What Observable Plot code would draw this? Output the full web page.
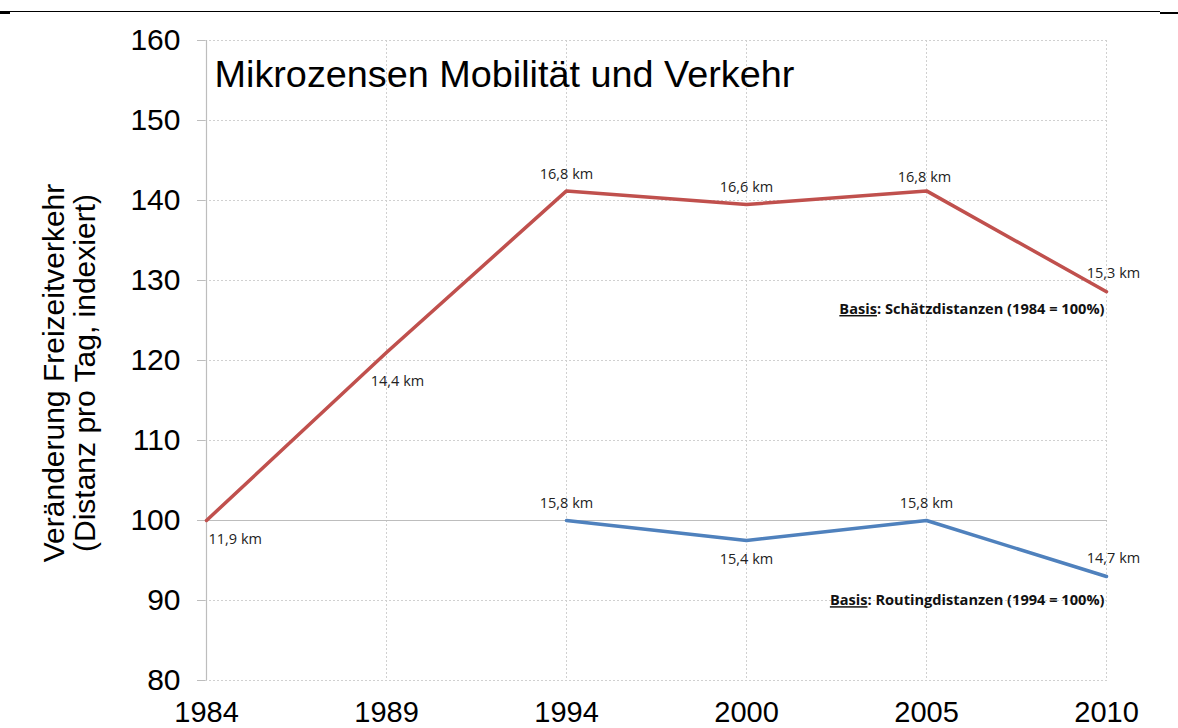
<!DOCTYPE html>
<html>
<head>
<meta charset="utf-8">
<script src="https://cdn.jsdelivr.net/npm/d3@7"></script>
<script src="https://cdn.jsdelivr.net/npm/@observablehq/plot@0.6"></script>
<style>
  html, body { margin: 0; padding: 0; background: #fff; }
  #wrap { position: relative; width: 1178px; height: 728px; overflow: hidden; }
  .rule { position: absolute; background: #000; }
  svg { display: block; }
</style>
</head>
<body>
<div id="wrap">
  <div class="rule" style="left:0;top:11px;width:1160px;height:1.3px"></div>
  <div class="rule" style="left:0;top:12px;width:10px;height:2px"></div>
  <div class="rule" style="left:1160px;top:12px;width:18px;height:2px"></div>
  <div id="chart"></div>
</div>
<script>
// ---- data ----
const years = ["1984", "1989", "1994", "2000", "2005", "2010"];
const yTicks = [80, 90, 100, 110, 120, 130, 140, 150, 160];

const schaetzYears = ["1984", "1989", "1994", "2000", "2005", "2010"];
const schaetzIndex = [100, 121.0, 141.2, 139.5, 141.2, 128.6];
const schaetzKm = ["11,9 km", "14,4 km", "16,8 km", "16,6 km", "16,8 km", "15,3 km"];
const schaetzPlace = ["se", "s2", "n", "n", "n2", "ne"];

const routingYears = ["1994", "2000", "2005", "2010"];
const routingIndex = [100, 97.5, 100, 93.0];
const routingKm = ["15,8 km", "15,4 km", "15,8 km", "14,7 km"];
const routingPlace = ["n", "s", "n", "ne"];

const title = "Mikrozensen Mobilität und Verkehr";
const yLabel1 = "Veränderung Freizeitverkehr";
const yLabel2 = "(Distanz pro Tag, indexiert)";
const basisSchaetz = "Basis: Schätzdistanzen (1984 = 100%)";
const basisRouting = "Basis: Routingdistanzen (1994 = 100%)";

// ---- build tables ----
const red = schaetzYears.map((y, i) => ({year: y, v: schaetzIndex[i], km: schaetzKm[i], p: schaetzPlace[i]}));
const blue = routingYears.map((y, i) => ({year: y, v: routingIndex[i], km: routingKm[i], p: routingPlace[i]}));
const allLabels = red.concat(blue);

const RED = "#c0504d", BLUE = "#4f81bd";
const placements = {
  n:  {dx: 0,  dy: -17, textAnchor: "middle"},
  n2: {dx: -2, dy: -14, textAnchor: "middle"},
  s:  {dx: 0,  dy: 19,  textAnchor: "middle"},
  s2: {dx: 11, dy: 29,  textAnchor: "middle"},
  se: {dx: 2,  dy: 19,  textAnchor: "start"},
  ne: {dx: 7,  dy: -18, textAnchor: "middle"}
};
const labelFont = {fontFamily: "Open Sans", fontSize: 14.5, fill: "#222"};

const labelMarks = Object.entries(placements).map(([k, o]) =>
  Plot.text(allLabels.filter(d => d.p === k), {
    x: "year", y: "v", text: "km", lineAnchor: "middle", ...o, ...labelFont
  })
);

const basisFont = {textAnchor: "end", fontFamily: "Open Sans", fontSize: 14.6, fontWeight: "bold", fill: "#111", lineAnchor: "middle"};

const plot = Plot.plot({
  width: 1178,
  height: 728,
  marginLeft: 205,
  marginRight: 71,
  marginTop: 40,
  marginBottom: 48,
  style: {fontFamily: "Liberation Sans, Arial, sans-serif", background: "#fff"},
  x: {type: "point", domain: years, padding: 0, label: null},
  y: {domain: [80, 160], label: null},
  marks: [
    Plot.gridY(yTicks, {stroke: "#d0d0d0", strokeOpacity: 1, strokeDasharray: "2,2"}),
    Plot.gridX(years.slice(1), {stroke: "#d0d0d0", strokeOpacity: 1, strokeDasharray: "2,2"}),
    Plot.ruleY([100], {stroke: "#bdbdbd", strokeWidth: 1.2}),
    Plot.ruleX([years[0]], {stroke: "#bdbdbd", strokeWidth: 1.2}),
    Plot.axisY(yTicks, {tickSize: 8, tickPadding: 17, stroke: "#bdbdbd", fill: "#000", fontSize: 30, label: null}),
    Plot.axisX(years, {tickSize: 0, tickPadding: 21, fill: "#000", fontSize: 29, label: null}),
    Plot.lineY(red, {x: "year", y: "v", stroke: RED, strokeWidth: 3.5}),
    Plot.lineY(blue, {x: "year", y: "v", stroke: BLUE, strokeWidth: 3.5}),
    ...labelMarks,
    Plot.text([title], {frameAnchor: "top-left", dx: 9, dy: 20, fontSize: 37.8, fill: "#000", lineAnchor: "top", textAnchor: "start"}),
    Plot.text([basisSchaetz], {x: () => "2010", y: () => 126.4, dx: -2, ...basisFont}),
    Plot.text([basisRouting], {x: () => "2010", y: () => 90, dx: -2, ...basisFont})
  ]
});

// y-axis title (two lines, rotated)
const svg = d3.select(plot);
const g = svg.append("g").attr("transform", "translate(53,373) rotate(-90)")
  .attr("font-family", "Liberation Sans, Arial, sans-serif").attr("font-size", 30).attr("text-anchor", "middle").attr("fill", "#000");
g.append("text").attr("dy", "0.35em").text(yLabel1);
g.append("text").attr("y", 31).attr("dy", "0.35em").text(yLabel2);

// underline "Basis"
svg.selectAll("text").each(function() {
  const t = this.textContent;
  if (this.childNodes.length === 1 && this.firstChild.nodeType === 3 && t.startsWith("Basis:")) {
    const rest = t.slice(5);
    this.textContent = "";
    d3.select(this).append("tspan").attr("text-decoration", "underline").text("Basis");
    d3.select(this).append("tspan").text(rest);
  }
});

document.getElementById("chart").appendChild(plot);
</script>
</body>
</html>
